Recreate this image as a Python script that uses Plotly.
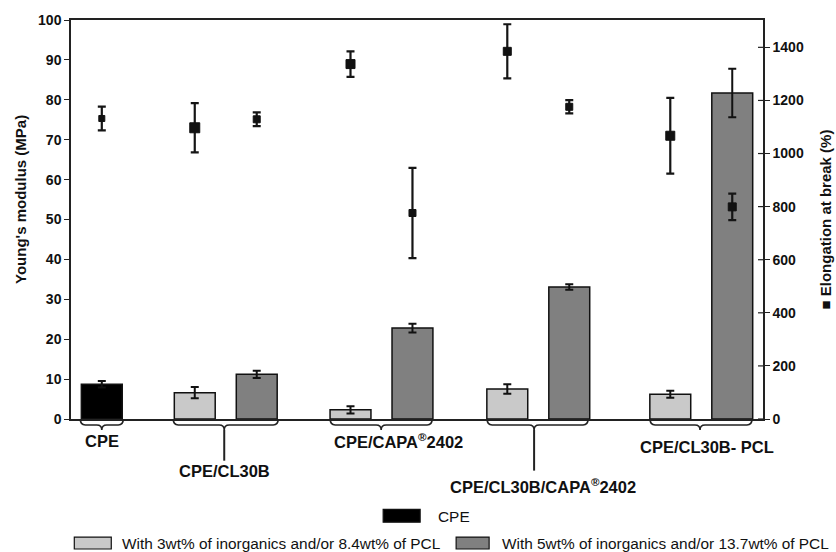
import plotly.graph_objects as go

# ---------------- data ----------------
groups = ["CPE", "CPE/CL30B", "CPE/CAPA<sup>®</sup>2402", "CPE/CL30B/CAPA<sup>®</sup>2402", "CPE/CL30B- PCL"]

# Young's modulus (MPa)
cpe_modulus = [8.7]
cpe_modulus_err = [0.8]
low_modulus = [6.6, 2.3, 7.5, 6.2]          # 3wt% inorganics and/or 8.4wt% PCL
low_modulus_err = [1.4, 0.9, 1.2, 0.85]
high_modulus = [11.2, 22.8, 33.1, 81.7]     # 5wt% inorganics and/or 13.7wt% PCL
high_modulus_err = [0.9, 1.1, 0.7, 6.1]

# Elongation at break (%)
cpe_elong = [1132]
cpe_elong_err = [45]
low_elong = [1097, 1337, 1385, 1067]
low_elong_err = [93, 48, 102, 143]
high_elong = [1129, 776, 1176, 799]
high_elong_err = [26, 170, 25, 50]

legend_labels = ["CPE",
                 "With 3wt% of inorganics and/or 8.4wt% of PCL",
                 "With 5wt% of inorganics and/or 13.7wt% of PCL"]

# ---------------- layout helpers ----------------
W, H = 836, 552
L, R, T, B = 70.7, 763.0, 17.0, 419.0
group_centers = [0.497, 2.497, 5.01, 7.54, 10.17]   # in slot units (1 slot = 62 px)
offset = 0.5
barw = 0.66
x_range = [0, (R - L) / 62.0]

def px(x):
    return (x - L) / (R - L)

def py(y):
    return (B - y) / (B - T)

BLACK = "#000000"
LIGHT = "#c9c9c9"
DARK = "#808080"
FONT = "Liberation Sans"

x_cpe = [group_centers[0]]
x_low = [c - offset for c in group_centers[1:]]
x_high = [c + offset for c in group_centers[1:]]

fig = go.Figure()

err_style = dict(type="data", thickness=2, width=4, color="#111111")

fig.add_trace(go.Bar(x=x_cpe, y=cpe_modulus, width=barw, name=legend_labels[0],
                     marker=dict(color=BLACK, line=dict(color="#111", width=1.5)),
                     error_y=dict(array=cpe_modulus_err, **err_style)))
fig.add_trace(go.Bar(x=x_low, y=low_modulus, width=barw, name=legend_labels[1],
                     marker=dict(color=LIGHT, line=dict(color="#111", width=1.5)),
                     error_y=dict(array=low_modulus_err, **err_style)))
fig.add_trace(go.Bar(x=x_high, y=high_modulus, width=barw, name=legend_labels[2],
                     marker=dict(color=DARK, line=dict(color="#111", width=1.5)),
                     error_y=dict(array=high_modulus_err, **err_style)))

marker_sizes = [6, 10, 7, 9, 7, 8, 7, 9, 8]
el_x = x_cpe + [v for pair in zip(x_low, x_high) for v in pair]
el_y = cpe_elong + [v for pair in zip(low_elong, high_elong) for v in pair]
el_e = cpe_elong_err + [v for pair in zip(low_elong_err, high_elong_err) for v in pair]

fig.add_trace(go.Scatter(x=el_x, y=el_y, yaxis="y2", mode="markers",
                         marker=dict(symbol="square", size=marker_sizes, color="#111111",
                                     opacity=1, line=dict(width=1, color="#111111")),
                         error_y=dict(array=el_e, type="data", thickness=2.2, width=4,
                                      color="#151515"),
                         name="Elongation at break (%)"))

# ---------------- decorations ----------------
shapes = []
braces = [  # (x0, x1, tip, stem_end)
    (80, 123, 101.5, None),
    (173, 278, 224, 461),
    (330, 432, 381, None),
    (487, 588, 534, 471),
    (650, 752, 700, None),
]
for x0, x1, xc, stem in braces:
    y0, y1, y2 = 419, 425, 430
    path = (f"M {px(x0)},{py(y0)} Q {px(x0)},{py(y1)} {px(x0+5)},{py(y1)} "
            f"L {px(xc-5)},{py(y1)} Q {px(xc)},{py(y1)} {px(xc)},{py(y2)} "
            f"Q {px(xc)},{py(y1)} {px(xc+5)},{py(y1)} "
            f"L {px(x1-5)},{py(y1)} Q {px(x1)},{py(y1)} {px(x1)},{py(y0)}")
    shapes.append(dict(type="path", xref="paper", yref="paper", path=path,
                       line=dict(color="#222", width=1.6)))
    if stem:
        shapes.append(dict(type="line", xref="paper", yref="paper",
                           x0=px(xc), x1=px(xc), y0=py(y2), y1=py(stem),
                           line=dict(color="#222", width=2)))

# crossing tick marks on right axis (inner half)
for v in [0, 200, 400, 600, 800, 1000, 1200, 1400]:
    shapes.append(dict(type="line", xref="paper", yref="y2", x0=px(R - 5), x1=1,
                       y0=v, y1=v, line=dict(color="#222", width=1.2)))

# legend boxes
legend_boxes = [((383, 510, 420, 523), BLACK),
                ((74, 538, 111, 550), LIGHT),
                ((456, 538, 489, 550), DARK)]
for (x0, y0, x1, y1), col in legend_boxes:
    shapes.append(dict(type="rect", xref="paper", yref="paper",
                       x0=px(x0), x1=px(x1), y0=py(y0), y1=py(y1),
                       fillcolor=col, line=dict(color="#111", width=1.2)))

annotations = []
label_pos = [(101.5, 441.5), (224, 471.5), (398, 441.5), (543, 487), (706.5, 447.5)]
for name, (x, y) in zip(groups, label_pos):
    annotations.append(dict(text=f"<b>{name}</b>", xref="paper", yref="paper",
                            x=px(x), y=py(y), showarrow=False, xanchor="center",
                            yanchor="middle", font=dict(family=FONT, size=16.5, color="#111")))

leg_text_pos = [(436, 517), (120, 544.5), (500, 544.5)]
for t, (x, y) in zip(legend_labels, leg_text_pos):
    annotations.append(dict(text=t, xref="paper", yref="paper", x=px(x), y=py(y),
                            showarrow=False, xanchor="left", yanchor="middle",
                            font=dict(family=FONT, size=15.4, color="#111")))

annotations.append(dict(text="<b>Young's modulus (MPa)</b>", xref="paper", yref="paper",
                        x=px(20), y=py(198), textangle=-90, showarrow=False,
                        xanchor="center", yanchor="middle",
                        font=dict(family=FONT, size=15, color="#111")))
annotations.append(dict(text="<b>■ Elongation at break (%)</b>", xref="paper", yref="paper",
                        x=px(826), y=py(218), textangle=-90, showarrow=False,
                        xanchor="center", yanchor="middle",
                        font=dict(family=FONT, size=15, color="#111")))

fig.update_layout(
    width=W, height=H,
    margin=dict(l=L, r=W - R, t=T, b=H - B, pad=0),
    paper_bgcolor="white", plot_bgcolor="white",
    showlegend=False, barmode="overlay",
    xaxis=dict(range=x_range, showgrid=False, zeroline=False, showticklabels=False,
               ticks="", showline=True, linecolor="#222", linewidth=1.5, mirror=True,
               fixedrange=True),
    yaxis=dict(range=[0, 100], dtick=10, showgrid=False, zeroline=False,
               showline=True, linecolor="#222", linewidth=1.5,
               ticks="outside", ticklen=5, tickwidth=1.2, tickcolor="#222",
               tickfont=dict(family=FONT, size=14, color="#111", weight="bold"),
               title=None),
    yaxis2=dict(range=[0, 1503], tickvals=[0, 200, 400, 600, 800, 1000, 1200, 1400],
                overlaying="y", side="right", showgrid=False, zeroline=False,
                showline=True, linecolor="#222", linewidth=1.5,
                ticks="outside", ticklen=5, tickwidth=1.2, tickcolor="#222",
                tickfont=dict(family=FONT, size=14, color="#111", weight="bold"),
                title=None),
    shapes=shapes, annotations=annotations,
)

fig.write_html("out.html")
